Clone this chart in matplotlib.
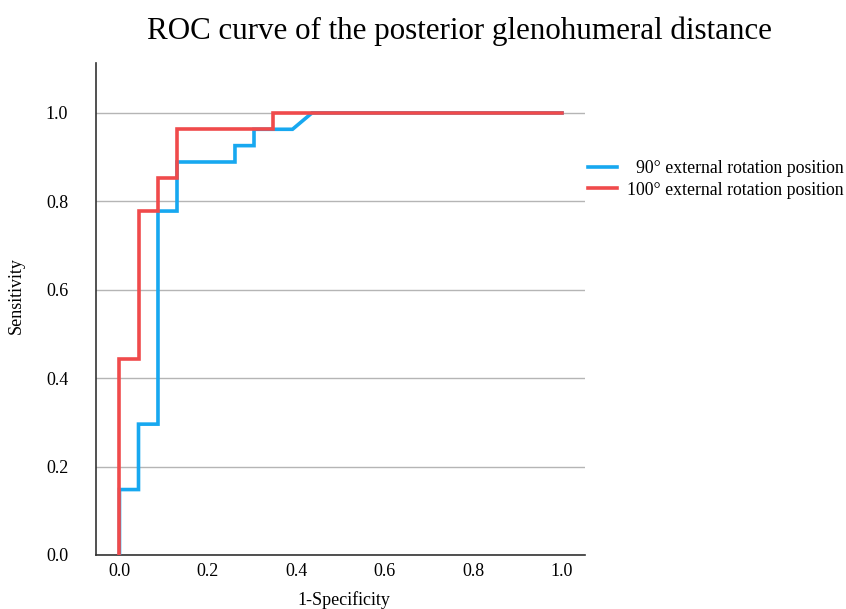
import matplotlib
matplotlib.use("Agg")
import matplotlib.pyplot as plt

# ROC points (step curves)
fpr_90 = [0.0, 0.0, 0.043, 0.043, 0.087, 0.087, 0.130, 0.130, 0.261, 0.261,
          0.304, 0.304, 0.391, 0.435, 1.0]
tpr_90 = [0.0, 0.148, 0.148, 0.296, 0.296, 0.778, 0.778, 0.889, 0.889, 0.926,
          0.926, 0.963, 0.963, 1.0, 1.0]
fpr_100 = [0.0, 0.0, 0.043, 0.043, 0.087, 0.087, 0.130, 0.130, 0.348, 0.348, 1.0]
tpr_100 = [0.0, 0.444, 0.444, 0.778, 0.778, 0.852, 0.852, 0.963, 0.963, 1.0, 1.0]
labels = ["  90° external rotation position", "100° external rotation position"]
ticks = [0.0, 0.2, 0.4, 0.6, 0.8, 1.0]

BLUE = "#17a8f0"
RED = "#f04a4b"

plt.rcParams["font.family"] = ["Liberation Serif", "DejaVu Serif"]

fig = plt.figure(figsize=(8.46, 6.09), dpi=100)
ax = fig.add_axes([0.1135, 0.0887, 0.578, 0.8079])

ax.plot(fpr_90, tpr_90, color=BLUE, lw=2.6, label=labels[0], zorder=3,
        solid_joinstyle="miter")
ax.plot(fpr_100, tpr_100, color=RED, lw=2.6, label=labels[1], zorder=4,
        solid_joinstyle="miter")

ax.set_xlim(-0.053, 1.052)
ax.set_ylim(0.0, 1.113)
ax.set_xticks(ticks)
ax.set_xticklabels([f"{t:.1f}" for t in ticks])
ax.set_yticks(ticks)
ax.set_yticklabels([f"{t:.1f}" for t in ticks])
ax.tick_params(axis="both", length=0, labelsize=13, colors="black")
ax.tick_params(axis="y", pad=20)
ax.tick_params(axis="x", pad=6)
ax.grid(axis="y", color="#b5b5b5", linewidth=1.0, zorder=0)

for s in ("top", "right"):
    ax.spines[s].set_visible(False)
for s in ("left", "bottom"):
    ax.spines[s].set_color("#333333")
    ax.spines[s].set_linewidth(1.2)

ax.set_xlabel("1-Specificity", fontsize=13)
ax.set_ylabel("Sensitivity", fontsize=13)
ax.xaxis.set_label_coords(0.506, -0.074)
ax.yaxis.set_label_coords(-0.145, 0.528)

fig.text(0.543, 0.949, "ROC curve of the posterior glenohumeral distance",
         fontsize=22.3, ha="center", va="center")

fig.legend(loc="upper left", bbox_to_anchor=(0.695, 0.737), frameon=False,
           fontsize=12.8, handlelength=1.65, handletextpad=0.55,
           labelspacing=0.25, borderpad=0, borderaxespad=0)

fig.savefig("out.png", dpi=100)
